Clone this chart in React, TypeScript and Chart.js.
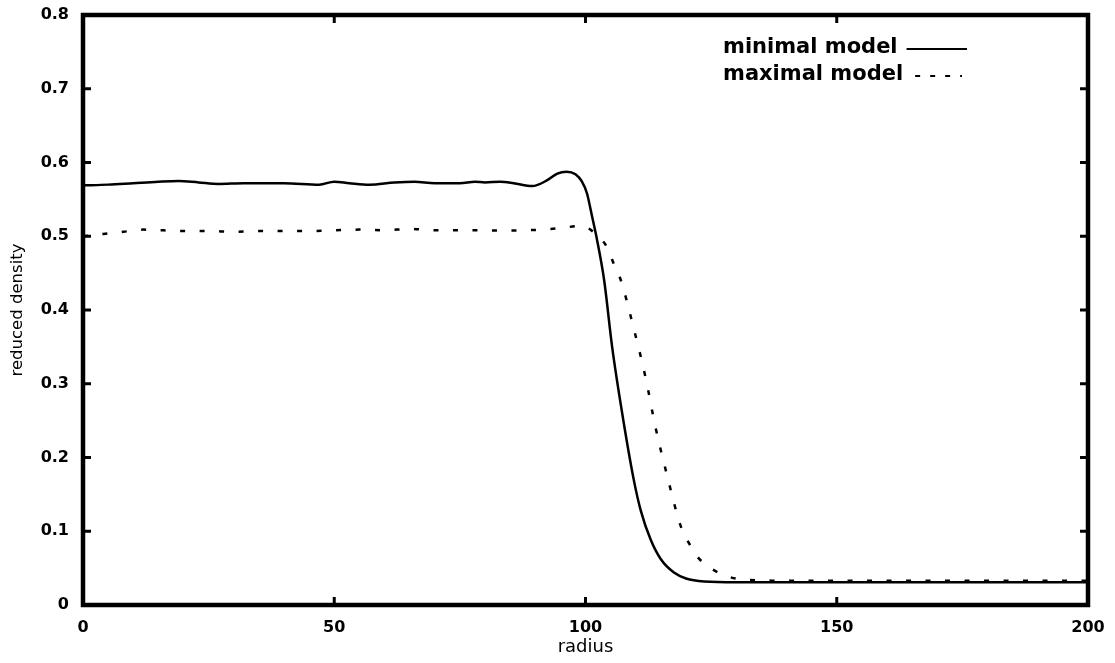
import React, { useEffect, useRef } from 'react';
import { Chart, registerables } from 'chart.js';

Chart.register(...registerables);

// ---- data ----
const seriesLabels = ['minimal model', 'maximal model'];

const radiusMinimal = [
  0, 5, 10, 15, 19, 23, 27, 32, 40, 47, 50, 53, 57, 62, 66, 70, 75, 78, 80, 83, 85.7, 89.4,
  92.4, 94.4, 96.2, 98, 99.3, 100.3, 101.3, 102.3, 103.7, 105.3, 107.3, 109.6, 111, 113, 115,
  117.6, 120, 123.6, 130, 160, 200,
];
const densityMinimal = [
  0.569, 0.57, 0.572, 0.574, 0.575, 0.573, 0.571, 0.572, 0.572, 0.57, 0.574, 0.572, 0.57, 0.573,
  0.574, 0.572, 0.572, 0.574, 0.573, 0.574, 0.572, 0.568, 0.576, 0.585, 0.5875, 0.584, 0.574,
  0.558, 0.527, 0.495, 0.441, 0.35, 0.26, 0.17, 0.128, 0.088, 0.062, 0.044, 0.036, 0.032, 0.031,
  0.031, 0.031,
];

const radiusMaximal = [
  0, 4, 8, 12, 16, 20, 25, 30, 35, 45, 55, 60, 65, 70, 75, 79.7, 83.7, 87.7, 91.3, 95, 99, 100.5,
  102, 104.3, 105.6, 107, 109.6, 112, 113.9, 116.3, 118.9, 120.5, 122.2, 124.9, 128.2, 132, 140,
  170, 200,
];
const densityMaximal = [
  0.5, 0.503, 0.506, 0.509, 0.508, 0.507, 0.507, 0.506, 0.507, 0.507, 0.509, 0.508, 0.51, 0.508,
  0.508, 0.508, 0.5076, 0.508, 0.509, 0.511, 0.514, 0.511, 0.503, 0.485, 0.463, 0.441, 0.375,
  0.307, 0.242, 0.174, 0.108, 0.085, 0.066, 0.05, 0.039, 0.034, 0.033, 0.033, 0.033,
];

const xTickLabels = ['0', '50', '100', '150', '200'];
const yTickLabels = ['0', '0.1', '0.2', '0.3', '0.4', '0.5', '0.6', '0.7', '0.8'];

const FONT = "'DejaVu Sans', 'Liberation Sans', sans-serif";

const framePlugin = {
  id: 'frameTicks',
  afterDatasetsDraw(chart: any) {
    const { ctx, chartArea: a, scales } = chart;
    ctx.save();
    ctx.strokeStyle = '#000';
    ctx.lineCap = 'butt';
    const seg = (x1: number, y1: number, x2: number, y2: number) => {
      ctx.beginPath();
      ctx.moveTo(x1, y1);
      ctx.lineTo(x2, y2);
      ctx.stroke();
    };
    const tl = 8;
    ctx.lineWidth = 3;
    scales.y.ticks.forEach((t: any) => {
      const py = scales.y.getPixelForValue(t.value);
      seg(a.left, py, a.left + tl, py);
      seg(a.right - tl, py, a.right, py);
    });
    scales.x.ticks.forEach((t: any) => {
      const px = scales.x.getPixelForValue(t.value);
      seg(px, a.bottom, px, a.bottom - tl);
      seg(px, a.top, px, a.top + tl);
    });
    ctx.lineWidth = 4.5;
    ctx.strokeRect(a.left, a.top, a.right - a.left, a.bottom - a.top);
    ctx.restore();
  },
};

const legendPlugin = {
  id: 'insideLegend',
  afterDraw(chart: any) {
    const { ctx, chartArea: a } = chart;
    const textLeft = a.left + 640;
    const sampleRight = [a.right - 121, a.right - 126];
    const rowY = [a.top + 33, a.top + 60];
    ctx.save();
    ctx.fillStyle = '#000';
    ctx.strokeStyle = '#000';
    chart.data.datasets.forEach((ds: any, i: number) => {
      const y = rowY[i];
      ctx.font = `bold 21px ${FONT}`;
      ctx.textBaseline = 'middle';
      ctx.textAlign = 'left';
      ctx.fillText(ds.label, textLeft, y);
      const w = ctx.measureText(ds.label).width;
      ctx.lineWidth = 2;
      ctx.setLineDash(i === 0 ? [] : [5, 10]);
      ctx.beginPath();
      ctx.moveTo(textLeft + w + (i === 0 ? 9 : 12), y + 1);
      ctx.lineTo(sampleRight[i], y + 1);
      ctx.stroke();
    });
    ctx.restore();
  },
};

export default function App() {
  const canvasRef = useRef<HTMLCanvasElement | null>(null);

  useEffect(() => {
    if (!canvasRef.current) return;
    const chart = new Chart(canvasRef.current, {
      type: 'line',
      data: {
        datasets: [
          {
            label: seriesLabels[0],
            data: radiusMinimal.map((r, i) => ({ x: r, y: densityMinimal[i] })),
            borderColor: '#000',
            borderWidth: 2.5,
            pointRadius: 0,
            cubicInterpolationMode: 'monotone',
            fill: false,
          },
          {
            label: seriesLabels[1],
            data: radiusMaximal.map((r, i) => ({ x: r, y: densityMaximal[i] })),
            borderColor: '#000',
            borderWidth: 2.5,
            borderDash: [5, 14.5],
            pointRadius: 0,
            cubicInterpolationMode: 'monotone',
            fill: false,
          },
        ],
      },
      options: {
        animation: false,
        responsive: true,
        maintainAspectRatio: false,
        layout: { padding: { left: 8, right: 27, top: 15, bottom: 5 } },
        plugins: { legend: { display: false }, tooltip: { enabled: false } },
        scales: {
          x: {
            type: 'linear',
            min: 0,
            max: 200,
            grid: { display: false, drawTicks: false },
            border: { display: false },
            ticks: {
              stepSize: 50,
              padding: 13,
              maxRotation: 0,
              color: '#000',
              font: { family: FONT, size: 16, weight: 'bold' },
              callback: (_v: any, idx: number) => xTickLabels[idx],
            },
            title: {
              display: true,
              text: 'radius',
              color: '#000',
              font: { family: FONT, size: 18 },
              padding: 0,
            },
            afterFit: (s: any) => {
              s.height = 53;
              s.paddingLeft = 0;
              s.paddingRight = 0;
            },
          },
          y: {
            type: 'linear',
            min: 0,
            max: 0.8,
            grid: { display: false, drawTicks: false },
            border: { display: false },
            ticks: {
              stepSize: 0.1,
              padding: 14,
              color: '#000',
              font: { family: FONT, size: 16, weight: 'bold' },
              callback: (_v: any, idx: number) => yTickLabels[idx],
            },
            title: {
              display: true,
              text: 'reduced density',
              color: '#000',
              font: { family: FONT, size: 16.5 },
              padding: 0,
            },
            afterFit: (s: any) => {
              s.width = 75;
              s.paddingTop = 0;
              s.paddingBottom = 0;
            },
          },
        },
      } as any,
      plugins: [framePlugin, legendPlugin],
    });
    return () => chart.destroy();
  }, []);

  return (
    <div style={{ position: 'absolute', left: 0, top: 0, width: 1115, height: 663 }}>
      <canvas ref={canvasRef} />
    </div>
  );
}
